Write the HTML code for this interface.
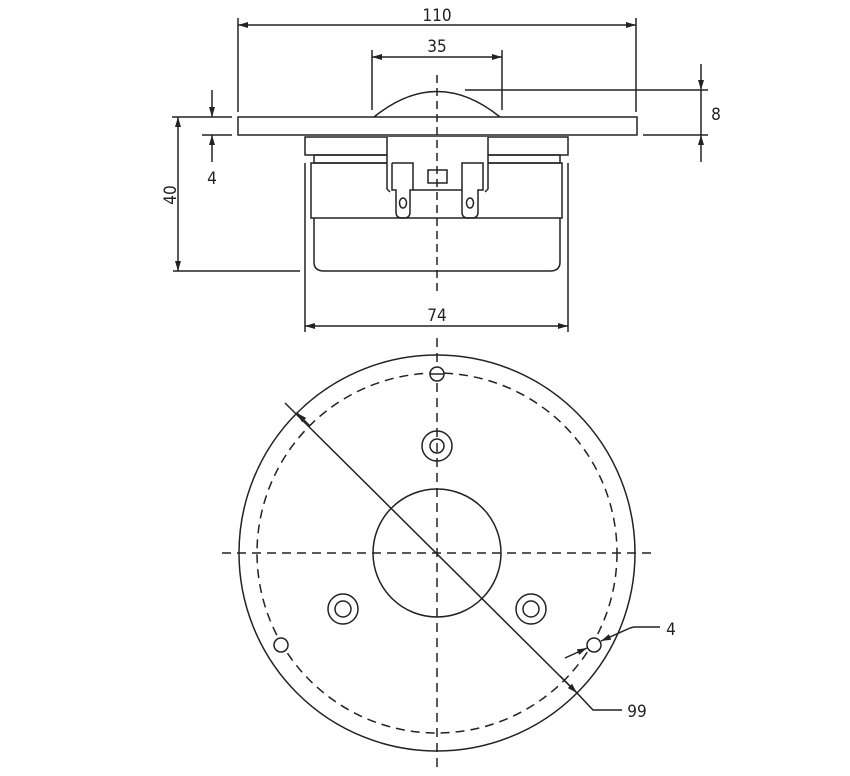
<!DOCTYPE html>
<html><head><meta charset="utf-8"><style>
html,body{margin:0;padding:0;background:#fff;}
svg{display:block;}
text{font-family:"DejaVu Sans Condensed","Liberation Sans",sans-serif;font-size:17px;fill:#222;}
</style></head><body>
<svg width="850" height="776" viewBox="0 0 850 776" xmlns="http://www.w3.org/2000/svg">
<defs>
<marker id="a" viewBox="0 0 10 6" refX="10" refY="3" markerWidth="10" markerHeight="6" orient="auto-start-reverse" markerUnits="userSpaceOnUse">
<path d="M0,0 L10,3 L0,6 z" fill="#222"/></marker>
</defs>
<g stroke="#222" stroke-width="1.5" fill="none">
<!-- 110 -->
<line x1="238" y1="18" x2="238" y2="112"/>
<line x1="636" y1="18" x2="636" y2="112"/>
<line x1="238" y1="25" x2="636" y2="25" marker-start="url(#a)" marker-end="url(#a)"/>
<!-- 35 -->
<line x1="372" y1="50" x2="372" y2="110"/>
<line x1="502" y1="50" x2="502" y2="110"/>
<line x1="372" y1="57" x2="502" y2="57" marker-start="url(#a)" marker-end="url(#a)"/>
<!-- flange -->
<rect x="238" y="117" width="399" height="18" fill="#fff"/>
<path d="M374,117 Q437,66 500,117"/>
<!-- 8 dim -->
<line x1="465" y1="90" x2="708" y2="90"/>
<line x1="643" y1="135" x2="708" y2="135"/>
<line x1="701" y1="64" x2="701" y2="90" marker-end="url(#a)"/>
<line x1="701" y1="162" x2="701" y2="135" marker-end="url(#a)"/>
<line x1="701" y1="90" x2="701" y2="135"/>
<!-- 4 dim -->
<line x1="172" y1="117" x2="232" y2="117"/>
<line x1="202" y1="135" x2="232" y2="135"/>
<line x1="212" y1="90" x2="212" y2="117" marker-end="url(#a)"/>
<line x1="212" y1="162" x2="212" y2="135" marker-end="url(#a)"/>
<!-- 40 dim -->
<line x1="178" y1="117" x2="178" y2="271" marker-start="url(#a)" marker-end="url(#a)"/>
<line x1="173" y1="271" x2="300" y2="271"/>
<!-- body -->
<rect x="305" y="137" width="263" height="18"/>
<rect x="314" y="155" width="246" height="8"/>
<rect x="311" y="163" width="251" height="55"/>
<path d="M314,218 V262 Q314,271 324,271 H550 Q560,271 560,262 V218"/>
<line x1="305" y1="163" x2="305" y2="332"/>
<line x1="568" y1="163" x2="568" y2="332"/>
<line x1="305" y1="326" x2="568" y2="326" marker-start="url(#a)" marker-end="url(#a)"/>
<!-- terminal block -->
<rect x="387" y="137" width="101" height="53" fill="#fff" stroke="none"/>
<path d="M387,137 V189 L390,192 M488,137 V189 L485,192"/>
<path d="M392,163 H413 V190 H462 V163 H483 V190 H478 V212 Q478,218 472,218 H468 Q462,218 462,212 V190 M392,163 V190 H396 V212 Q396,218 402,218 H404 Q410,218 410,212 V190 H413"/>
<ellipse cx="403" cy="203" rx="3.5" ry="5"/>
<ellipse cx="470" cy="203" rx="3.5" ry="5"/>
<rect x="428" y="170" width="19" height="13"/>
<line x1="437" y1="75" x2="437" y2="292" stroke-dasharray="8,5"/>
<!-- bottom view -->
<circle cx="437" cy="553" r="198"/>
<circle cx="437" cy="553" r="180" stroke-dasharray="9,6"/>
<circle cx="437" cy="553" r="64"/>
<line x1="222" y1="553" x2="652" y2="553" stroke-dasharray="9,6"/>
<line x1="437" y1="338" x2="437" y2="770" stroke-dasharray="9,6"/>
<circle cx="437" cy="374" r="7" fill="#fff"/>
<line x1="430" y1="374" x2="444" y2="374"/>
<circle cx="437" cy="446" r="15"/><circle cx="437" cy="446" r="7"/>
<circle cx="343" cy="609" r="15"/><circle cx="343" cy="609" r="8"/>
<circle cx="531" cy="609" r="15"/><circle cx="531" cy="609" r="8"/>
<circle cx="281" cy="645" r="7" fill="#fff"/>
<circle cx="594" cy="645" r="7" fill="#fff"/>
<!-- 99 -->
<line x1="285" y1="403" x2="577" y2="693"/>
<line x1="310" y1="426" x2="297" y2="413" marker-end="url(#a)"/>
<line x1="560" y1="676" x2="577" y2="693" marker-end="url(#a)"/>
<polyline points="577,693 593,710 622,710"/>
<!-- 4 hole -->
<line x1="565" y1="658" x2="587" y2="648" marker-end="url(#a)"/>
<line x1="630" y1="628" x2="601" y2="641" marker-end="url(#a)"/>
<polyline points="630,628 634,627 660,627"/>
</g>
<text x="437" y="21" text-anchor="middle">110</text>
<text x="437" y="52" text-anchor="middle">35</text>
<text x="716" y="120" text-anchor="middle">8</text>
<text x="212" y="184" text-anchor="middle">4</text>
<text transform="translate(176,195) rotate(-90)" text-anchor="middle">40</text>
<text x="437" y="321" text-anchor="middle">74</text>
<text x="671" y="635" text-anchor="middle">4</text>
<text x="637" y="717" text-anchor="middle">99</text>
</svg>
</body></html>
